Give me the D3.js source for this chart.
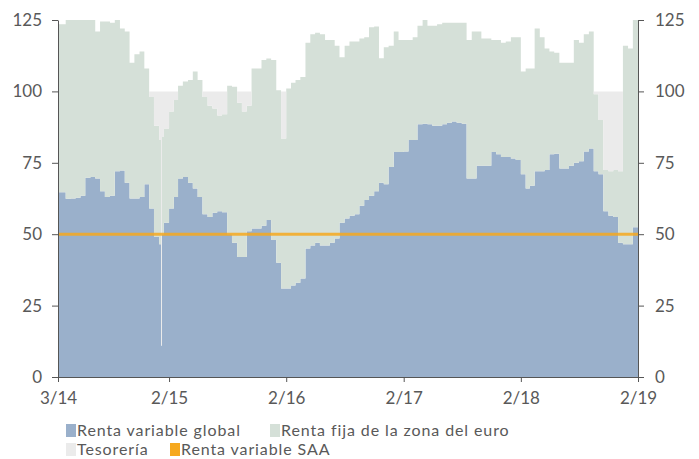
<!DOCTYPE html>
<html>
<head>
<meta charset="utf-8">
<script src="https://cdn.jsdelivr.net/npm/d3@7"></script>
<style>
  body { margin: 0; background: #fff; }
  text { font-family: Lato, "Open Sans", sans-serif; }
</style>
</head>
<body>
<svg id="chart" width="699" height="459"></svg>
<script>
// fechas de los datos (quincenales, mas un par de dias sueltos)
var dates = [
  "2014-02-20","2014-03-16","2014-04-01","2014-04-16","2014-05-01","2014-05-16","2014-06-01","2014-06-16",
  "2014-07-01","2014-07-16","2014-08-01","2014-08-16","2014-09-01","2014-09-16","2014-10-01","2014-10-16",
  "2014-11-01","2014-11-16","2014-12-01","2014-12-16","2015-01-01","2015-01-07","2015-01-10","2015-01-16",
  "2015-02-01","2015-02-16","2015-03-01","2015-03-16","2015-04-01","2015-04-16","2015-05-01","2015-05-16",
  "2015-06-01","2015-06-16","2015-07-01","2015-07-16","2015-08-01","2015-08-16","2015-09-01","2015-09-16",
  "2015-10-01","2015-10-16","2015-11-01","2015-11-16","2015-12-01","2015-12-16","2016-01-01","2016-01-16",
  "2016-02-01","2016-02-16","2016-03-01","2016-03-16","2016-04-01","2016-04-16","2016-05-01","2016-05-16",
  "2016-06-01","2016-06-16","2016-07-01","2016-07-16","2016-08-01","2016-08-16","2016-09-01","2016-09-16",
  "2016-10-01","2016-10-16","2016-11-01","2016-11-16","2016-12-01","2016-12-16","2017-01-01","2017-01-16",
  "2017-02-01","2017-02-16","2017-03-01","2017-03-16","2017-04-01","2017-04-16","2017-05-01","2017-05-16",
  "2017-06-01","2017-06-16","2017-07-01","2017-07-16","2017-08-01","2017-08-16","2017-09-01","2017-09-16",
  "2017-10-01","2017-10-16","2017-11-01","2017-11-16","2017-12-01","2017-12-16","2018-01-01","2018-01-16",
  "2018-02-01","2018-02-16","2018-03-01","2018-03-16","2018-04-01","2018-04-16","2018-05-01","2018-05-16",
  "2018-06-01","2018-06-16","2018-07-01","2018-07-16","2018-08-01","2018-08-16","2018-09-01","2018-09-16",
  "2018-10-01","2018-10-16","2018-11-01","2018-11-16","2018-12-01","2018-12-16","2019-01-01","2019-01-16",
  "2019-02-01"
];

// Renta variable global (%)
var rvGlobal = [
  64.7, 62.4, 62.5, 62.8, 63.5, 69.8, 70, 69.5,
  65, 63, 63.5, 72, 72.3, 68, 62.5, 62.5,
  63, 67.5, 59, 49, 46.5, 11, 50, 54,
  59, 63, 69.5, 70, 68, 66, 63, 57,
  56, 57.5, 58, 57.7, 50, 47, 42, 42,
  51, 52, 52, 53, 55, 48, 40, 31,
  31, 32, 33, 34.5, 45, 46, 47, 46,
  46, 47, 48.5, 54, 55.5, 56.5, 57, 60,
  62, 63.5, 65, 68, 67.5, 73.5, 78.8, 78.8,
  79, 83, 83, 88.5, 88.7, 88.5, 88, 88,
  88.5, 89, 89.5, 89, 88.7, 69.5, 69.5, 74,
  74, 74, 78.8, 78, 77, 77, 76.5, 76,
  71, 66, 67, 72, 72, 72.5, 78, 78.2,
  73, 73, 74, 75, 75.5, 79, 80, 72,
  71, 58, 56.5, 56, 47, 46.5, 46.5, 52.4,
  52.4
];

// Renta fija de la zona del euro (%)
var rfEuro = [
  58.8, 62.6, 62.5, 62.2, 61.5, 55.2, 55, 51.5,
  59.5, 61.5, 60.5, 53, 49.7, 53, 47.5, 50.5,
  51, 40.5, 39, 39, 36.5, 0, 34, 33,
  34, 34, 32.5, 33.5, 36, 41, 41, 41,
  39, 36.5, 33.6, 34.3, 52, 54.6, 54, 51,
  44, 56, 56, 58, 56.5, 63, 60.4, 52.5,
  70, 71, 71, 70.5, 72, 74, 73.5, 74,
  72, 71, 67.5, 58, 60.5, 61, 60.5, 58.5,
  57, 59, 57.7, 43.6, 48, 42.5, 42.2, 39.2,
  39, 35, 36, 34.5, 36.3, 34.5, 35, 35.5,
  35.5, 35, 34.5, 35, 35.3, 48.5, 51.5, 47,
  44.5, 44.5, 39.2, 40, 40, 40.5, 42.5, 43,
  36, 42, 41, 50, 47, 42.5, 36, 35.3,
  37, 37, 36, 43, 41.5, 41, 41, 27,
  19, 14.5, 15.5, 16.5, 25, 69.5, 68.5, 72.6,
  72.6
];

var saaLevel = 50;

var yTicks = [0, 25, 50, 75, 100, 125];
var xTickDates = ["2014-02-20", "2015-02-01", "2016-02-01", "2017-02-01", "2018-02-01", "2019-02-01"];
var xTickLabels = ["3/14", "2/15", "2/16", "2/17", "2/18", "2/19"];

var seriesNames = ["Renta variable global", "Renta fija de la zona del euro", "Tesorería", "Renta variable SAA"];
var colors = ["#9ab0cb", "#d5e0d8", "#ebebeb", "#f6a81e"];

var parse = d3.timeParse("%Y-%m-%d");

// tabla para d3.stack; la tesoreria completa hasta 100
var table = dates.map(function(d, i) {
  var total = rvGlobal[i] + rfEuro[i];
  return { date: parse(d), eq: rvGlobal[i], fi: rfEuro[i], cash: Math.max(0, 100 - total) };
});

var margin = { top: 20, right: 61, bottom: 82, left: 58 };
var svg = d3.select("#chart");
var width = 699 - margin.left - margin.right;
var height = 459 - margin.top - margin.bottom;

var g = svg.append("g").attr("transform", "translate(" + margin.left + "," + margin.top + ")");

var x = d3.scaleTime()
  .domain([parse(dates[0]), parse(dates[dates.length - 1])])
  .range([0, width]);

var y = d3.scaleLinear().domain([0, 125]).range([height, 0]);

g.append("clipPath").attr("id", "clip")
  .append("rect").attr("width", width).attr("height", height);

var stack = d3.stack().keys(["eq", "fi", "cash"]);
var layers = stack(table);

var area = d3.area()
  .curve(d3.curveStepAfter)
  .x(function(d) { return x(d.data.date); })
  .y0(function(d) { return y(d[0]); })
  .y1(function(d) { return y(d[1]); });

g.append("g").attr("clip-path", "url(#clip)")
  .selectAll("path")
  .data(layers)
  .enter().append("path")
    .attr("d", area)
    .attr("fill", function(d, i) { return colors[i]; });

// linea SAA
g.append("line")
  .attr("x1", 0).attr("x2", width)
  .attr("y1", y(saaLevel)).attr("y2", y(saaLevel))
  .attr("stroke", colors[3])
  .attr("stroke-opacity", 0.85)
  .attr("stroke-width", 3);

// ejes
var axisColor = "#555";

var left = g.append("g")
  .call(d3.axisLeft(y).tickValues(yTicks).tickSize(6).tickSizeOuter(0).tickPadding(10));
var right = g.append("g").attr("transform", "translate(" + width + ",0)")
  .call(d3.axisRight(y).tickValues(yTicks).tickSize(6).tickSizeOuter(0).tickPadding(11));
var bottom = g.append("g").attr("transform", "translate(0," + height + ")")
  .call(d3.axisBottom(x)
    .tickValues(xTickDates.map(parse))
    .tickFormat(function(d, i) { return xTickLabels[i]; })
    .tickSize(5).tickSizeOuter(0).tickPadding(10));

[left, right, bottom].forEach(function(a) {
  a.select(".domain").attr("stroke", axisColor);
  a.selectAll(".tick line").attr("stroke", axisColor);
  a.selectAll(".tick text")
    .attr("fill", "#595959")
    .style("font-size", "17px")
    .style("font-family", "Lato, 'Open Sans', sans-serif");
});

// leyenda (dos filas)
var legendItems = [
  { i: 0, x: 66, y: 436 },
  { i: 1, x: 270, y: 436 },
  { i: 2, x: 66, y: 455 },
  { i: 3, x: 170, y: 455 }
];

var legend = svg.selectAll(".legend")
  .data(legendItems)
  .enter().append("g")
  .attr("class", "legend")
  .attr("transform", function(d) { return "translate(" + d.x + "," + d.y + ")"; });

legend.append("rect")
  .attr("y", -12)
  .attr("width", 10)
  .attr("height", 13)
  .style("fill", function(d) { return colors[d.i]; });

legend.append("text")
  .attr("x", 11)
  .attr("y", 0)
  .attr("fill", "#595959")
  .style("font-size", "16px")
  .style("letter-spacing", "0.9px")
  .text(function(d) { return seriesNames[d.i]; });
</script>
</body>
</html>
